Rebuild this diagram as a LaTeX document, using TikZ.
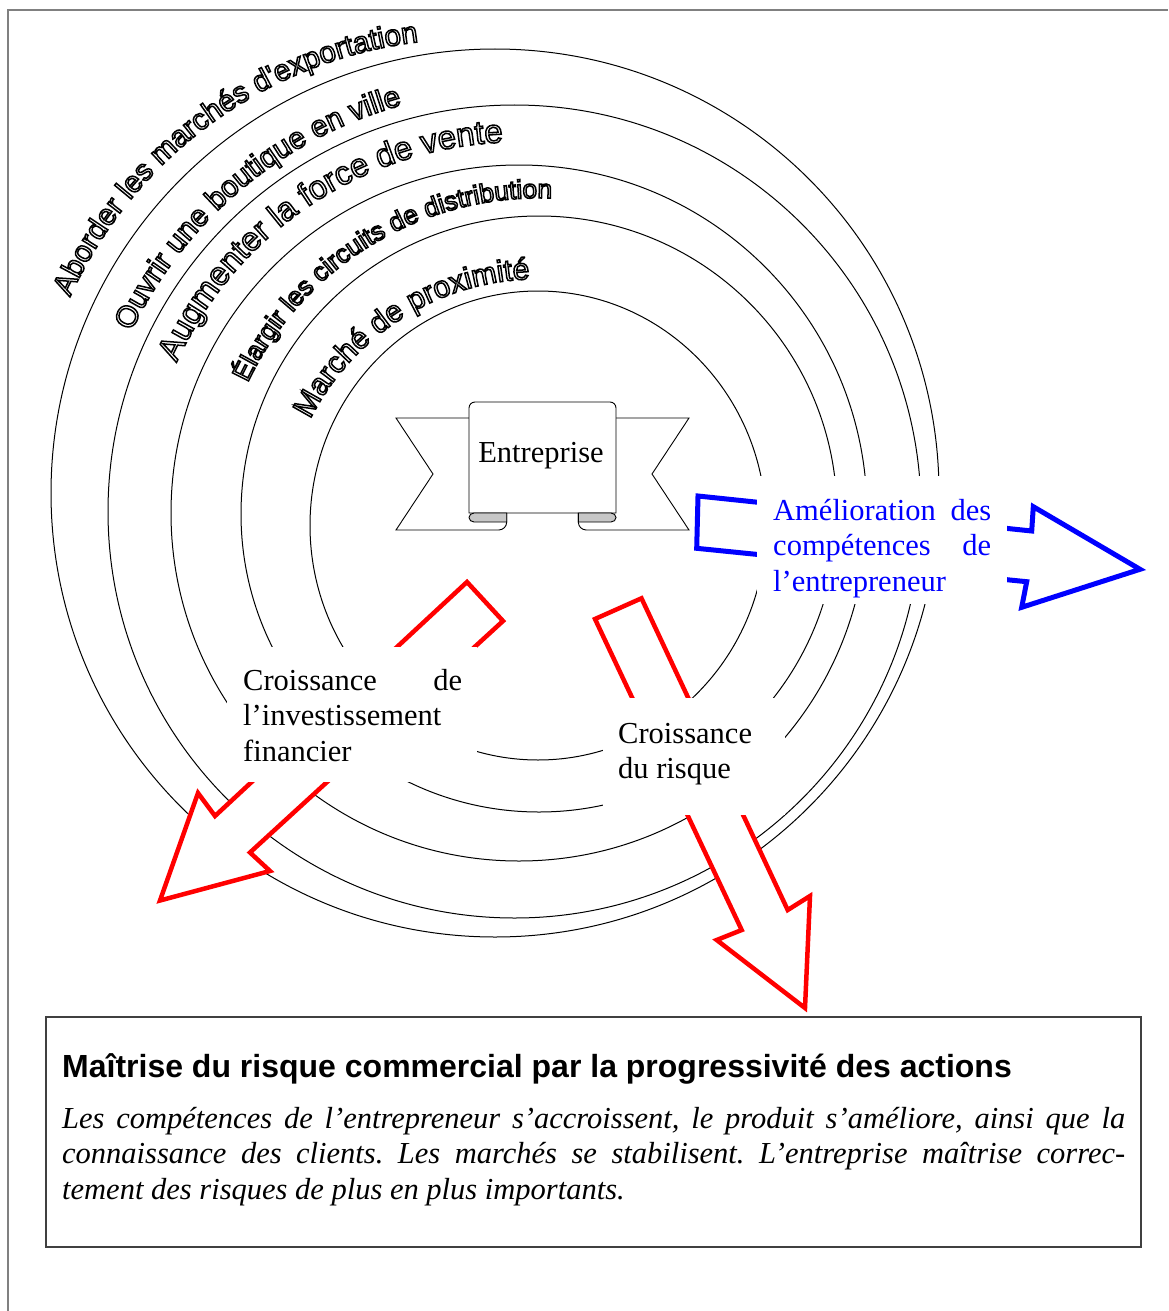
\documentclass[tikz,border=0pt]{standalone}
\usepackage{fontspec}
\setmainfont{Liberation Serif}
\newfontfamily\sansfam{Liberation Sans}
\usetikzlibrary{calc,decorations.text}
\makeatletter
\newcommand\hollowtext{\pgfsys@invoke{1 Tr 1.5 w}}
\makeatother
\newcommand\curvefont[1]{\sansfam\fontsize{#1}{#1}\selectfont\hollowtext}
\begin{document}
\begin{tikzpicture}[x=1pt,y=-1pt,
  ring/.style={draw=black, line width=1pt},
  redarrow/.style={draw=red, fill=white, line width=4.5pt, miter limit=10},
  bluearrow/.style={draw=blue, fill=white, line width=5pt, miter limit=10},
  mask/.style={fill=white, draw=none, inner sep=0pt},
  lbl/.style={inner sep=0pt, font=\fontsize{30.5}{35.5}\selectfont, anchor=base west},
  ribbon/.style={draw=black, fill=white, line width=0.9pt},
  curl/.style={draw=black, fill=black!22, line width=0.9pt},
  curved/.style 2 args={decorate, decoration={text along path, text align=left, text={|\curvefont{#1}|#2}}}
]
\useasboundingbox (0,0) rectangle (1168,1311);
\fill[white] (0,0) rectangle (1168,1311);

% rings
\draw[ring] (495,493) circle[radius=444];
\draw[ring] (514.5,511.5) circle[radius=406.5];
\draw[ring] (519,513) circle[radius=348];
\draw[ring] (539,514) circle[radius=298];
\draw[ring] (538,525.5) ellipse[x radius=228, y radius=234.5];

% arrows
\draw[redarrow] (467,582) -- (503,621) -- (250,852.5) -- (270,871) -- (160,900.5) -- (198,793) -- (215,816) -- cycle;
\draw[redarrow] (595,619) -- (641.5,598.3) -- (787.7,910) -- (810,896) -- (805,1008) -- (716.7,940) -- (741.7,930) -- cycle;
\draw[bluearrow] (698,496) -- (1031.7,531) -- (1033.3,506.7) -- (1140,569.3) -- (1021.7,607.3) -- (1026.7,581.7) -- (696.7,548.3) -- cycle;

% masks
\node[mask, minimum width=250pt, minimum height=135pt] (mInv) at (352,714.5) {};
\node[mask, minimum width=182pt, minimum height=117pt] (mRisk) at (694,756.5) {};
\node[mask, minimum width=250pt, minimum height=128pt] (mAmel) at (882,540) {};

% labels
\node[lbl, text width=219pt, align=left] (tInv) at (243,690) {Croissance\hfill de\\l’investissement\\financier};
\node[lbl, text width=160pt, align=flush left] (tRisk) at (618,743) {Croissance\\du risque};
\node[lbl, text width=218pt, align=left, text=blue] (tAmel) at (773,520) {Amélioration\hfill des\\compétences\hfill de\\l’entrepreneur};

% banner
\draw[ribbon] (396,418) -- (506.7,418) -- (506.7,522) arc[start angle=0, end angle=90, radius=8] -- (396,530) -- (433,474) -- cycle;
\draw[ribbon] (689,418) -- (578.3,418) -- (578.3,522) arc[start angle=180, end angle=90, radius=8] -- (689,530) -- (652,474) -- cycle;
\draw[ribbon] (469,513) [rounded corners=6pt] -- (469,402) -- (616,402) [sharp corners] -- (616,513) -- cycle;
\draw[curl] (506.7,513) -- (474,513) arc[start angle=-90, end angle=-270, x radius=5, y radius=4.5] -- (506.7,522) -- cycle;
\draw[curl] (578.3,513) -- (611,513) arc[start angle=-90, end angle=90, x radius=5, y radius=4.5] -- (578.3,522) -- cycle;
\node[inner sep=0pt, font=\fontsize{30.5}{35.5}\selectfont, anchor=base] (tEnt) at (541,462) {Entreprise};

% curved texts
\path[curved={29.7}{Aborder les marchés d'exportation}] ($(470.7,478.9)+(-155.6:440)$) arc[start angle=-155.6, end angle=-80, radius=440];
\path[curved={29.9}{Ouvrir une boutique en ville}] ($(514,514)+(-154.5:424)$) arc[start angle=-154.5, end angle=-80, radius=424];
\path[curved={33}{Augmenter la force de vente}] ($(519,518)+(-155.6:376)$) arc[start angle=-155.6, end angle=-70, radius=376];
\path[curved={26.3}{Élargir les circuits de distribution}] ($(539,520)+(-154.8:322)$) arc[start angle=-154.8, end angle=-60, radius=322];
\path[curved={30.2}{Marché de proximité}] ($(538,534)+(-153.3:255)$) arc[start angle=-153.3, end angle=-60, radius=255];

% bottom box
\draw[black!75, line width=1.2pt] (46,1017) rectangle (1141,1247);
\node[anchor=base west, inner sep=0pt, font=\sansfam\bfseries\fontsize{32}{38}\selectfont] (title) at (62,1077) {Maîtrise du risque commercial par la progressivité des actions};
\node[anchor=base west, inner sep=0pt, text width=1063pt, align=justify, font=\itshape\fontsize{30.5}{35.5}\selectfont] (para) at (62,1128) {\frenchspacing\tolerance=9999 Les compétences de l’entrepreneur s’accroissent, le produit s’améliore, ainsi que la\linebreak connaissance des clients. Les marchés se stabilisent. L’entreprise maîtrise correc-\linebreak tement des risques de plus en plus importants.};

% frame
\draw[black!50, line width=1.5pt] (8,1311) -- (8,10) -- (1168,10);
\end{tikzpicture}
\end{document}
